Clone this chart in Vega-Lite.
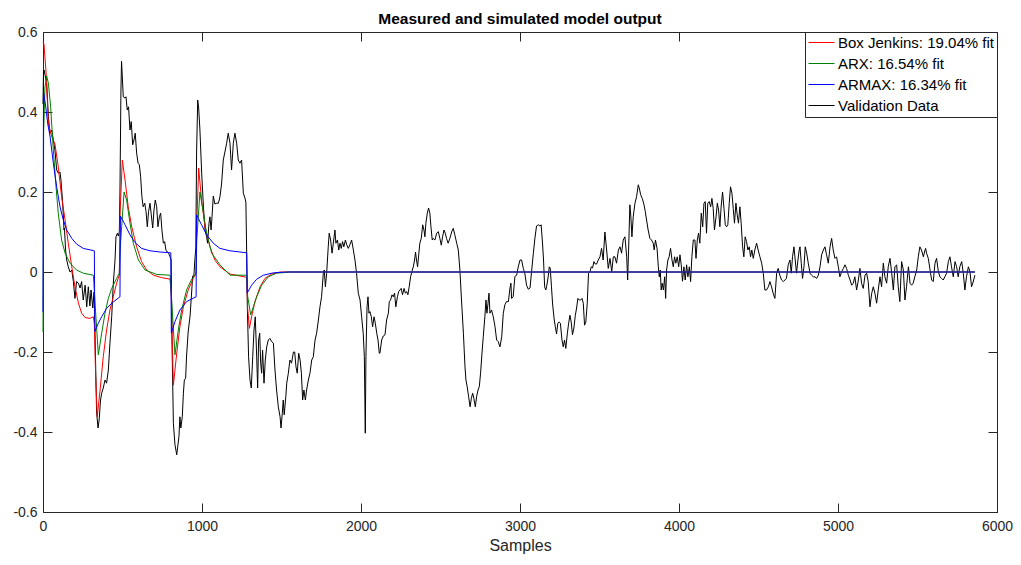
{
  "$schema": "https://vega.github.io/schema/vega-lite/v6.json",
  "width": 954,
  "height": 480,
  "autosize": {"type": "none"},
  "padding": {"left": 43, "top": 32, "right": 24, "bottom": 53},
  "background": "white",
  "title": {
    "text": "Measured and simulated model output",
    "fontSize": 15.5,
    "fontWeight": "bold",
    "color": "#000000",
    "anchor": "middle",
    "offset": -2
  },
  "config": {
    "font": "Liberation Sans",
    "view": {"stroke": null},
    "axis": {
      "grid": false,
      "domainColor": "#262626",
      "domainWidth": 1,
      "tickColor": "#262626",
      "tickWidth": 1,
      "tickSize": -9,
      "labelColor": "#262626",
      "labelFontSize": 14,
      "labelFlush": false,
      "labelOverlap": false,
      "titleColor": "#262626",
      "titleFontWeight": "normal"
    }
  },
  "datasets": {
    "validation": [
      {"s":0,"y":0.42},{"s":3,"y":0.5},{"s":7,"y":0.505},{"s":14,"y":0.49},{"s":23,"y":0.472},{"s":34,"y":0.388},{"s":44,"y":0.347},{"s":55,"y":0.355},{"s":65,"y":0.33},{"s":75,"y":0.305},{"s":86,"y":0.255},{"s":96,"y":0.247},{"s":107,"y":0.25},{"s":113,"y":0.23},{"s":121,"y":0.188},{"s":128,"y":0.14},{"s":132,"y":0.105},{"s":135,"y":0.11},{"s":142,"y":0.055},{"s":149,"y":0.03},{"s":159,"y":0.013},{"s":170,"y":0.0},{"s":181,"y":0.005},{"s":191,"y":-0.024},{"s":201,"y":-0.066},{"s":211,"y":-0.024},{"s":223,"y":-0.028},{"s":233,"y":-0.04},{"s":243,"y":-0.024},{"s":253,"y":-0.07},{"s":265,"y":-0.033},{"s":275,"y":-0.087},{"s":285,"y":-0.037},{"s":295,"y":-0.085},{"s":302,"y":-0.045},{"s":313,"y":-0.09},{"s":321,"y":-0.05},{"s":327,"y":-0.15},{"s":337,"y":-0.35},{"s":346,"y":-0.39},{"s":353,"y":-0.37},{"s":362,"y":-0.32},{"s":369,"y":-0.303},{"s":379,"y":-0.29},{"s":390,"y":-0.27},{"s":400,"y":-0.278},{"s":411,"y":-0.245},{"s":421,"y":-0.178},{"s":432,"y":-0.112},{"s":442,"y":-0.03},{"s":453,"y":0.03},{"s":459,"y":0.088},{"s":468,"y":0.097},{"s":474,"y":0.09},{"s":480,"y":0.1},{"s":484,"y":0.2},{"s":490,"y":0.45},{"s":494,"y":0.527},{"s":505,"y":0.438},{"s":516,"y":0.435},{"s":522,"y":0.438},{"s":530,"y":0.405},{"s":538,"y":0.413},{"s":547,"y":0.355},{"s":555,"y":0.376},{"s":564,"y":0.318},{"s":572,"y":0.33},{"s":580,"y":0.347},{"s":589,"y":0.297},{"s":598,"y":0.272},{"s":606,"y":0.268},{"s":614,"y":0.238},{"s":622,"y":0.188},{"s":630,"y":0.163},{"s":640,"y":0.172},{"s":648,"y":0.151},{"s":656,"y":0.113},{"s":664,"y":0.151},{"s":673,"y":0.172},{"s":681,"y":0.143},{"s":690,"y":0.11},{"s":698,"y":0.155},{"s":706,"y":0.18},{"s":715,"y":0.163},{"s":723,"y":0.113},{"s":732,"y":0.138},{"s":740,"y":0.147},{"s":748,"y":0.105},{"s":757,"y":0.072},{"s":765,"y":0.076},{"s":773,"y":0.055},{"s":782,"y":0.05},{"s":790,"y":0.047},{"s":799,"y":0.038},{"s":806,"y":0.03},{"s":811,"y":-0.17},{"s":820,"y":-0.378},{"s":830,"y":-0.432},{"s":841,"y":-0.457},{"s":847,"y":-0.437},{"s":855,"y":-0.412},{"s":861,"y":-0.362},{"s":867,"y":-0.39},{"s":876,"y":-0.362},{"s":883,"y":-0.303},{"s":889,"y":-0.27},{"s":897,"y":-0.266},{"s":903,"y":-0.21},{"s":913,"y":-0.15},{"s":925,"y":-0.11},{"s":935,"y":-0.05},{"s":941,"y":-0.01},{"s":949,"y":-0.01},{"s":955,"y":0.03},{"s":961,"y":0.06},{"s":966,"y":0.3},{"s":973,"y":0.43},{"s":979,"y":0.41},{"s":987,"y":0.355},{"s":998,"y":0.247},{"s":1009,"y":0.163},{"s":1019,"y":0.105},{"s":1029,"y":0.088},{"s":1035,"y":0.072},{"s":1044,"y":0.122},{"s":1050,"y":0.138},{"s":1057,"y":0.105},{"s":1063,"y":0.138},{"s":1071,"y":0.19},{"s":1081,"y":0.17},{"s":1092,"y":0.172},{"s":1103,"y":0.172},{"s":1113,"y":0.188},{"s":1123,"y":0.22},{"s":1134,"y":0.28},{"s":1144,"y":0.3},{"s":1155,"y":0.322},{"s":1165,"y":0.347},{"s":1176,"y":0.322},{"s":1186,"y":0.255},{"s":1197,"y":0.322},{"s":1207,"y":0.347},{"s":1218,"y":0.322},{"s":1228,"y":0.28},{"s":1239,"y":0.272},{"s":1249,"y":0.28},{"s":1260,"y":0.197},{"s":1270,"y":0.185},{"s":1276,"y":0.175},{"s":1283,"y":0.0},
      {"s":1285,"y":-0.087},{"s":1293,"y":-0.212},{"s":1302,"y":-0.27},{"s":1310,"y":-0.29},{"s":1319,"y":-0.212},{"s":1327,"y":-0.145},{"s":1335,"y":-0.112},{"s":1344,"y":-0.212},{"s":1350,"y":-0.29},{"s":1356,"y":-0.17},{"s":1363,"y":-0.153},{"s":1369,"y":-0.228},{"s":1375,"y":-0.253},{"s":1381,"y":-0.195},{"s":1390,"y":-0.278},{"s":1398,"y":-0.22},{"s":1407,"y":-0.187},{"s":1417,"y":-0.17},{"s":1427,"y":-0.166},{"s":1438,"y":-0.174},{"s":1449,"y":-0.178},{"s":1459,"y":-0.245},{"s":1469,"y":-0.295},{"s":1480,"y":-0.337},{"s":1491,"y":-0.362},{"s":1497,"y":-0.39},{"s":1505,"y":-0.353},{"s":1511,"y":-0.32},{"s":1517,"y":-0.357},{"s":1527,"y":-0.312},{"s":1533,"y":-0.278},{"s":1543,"y":-0.253},{"s":1553,"y":-0.22},{"s":1563,"y":-0.228},{"s":1575,"y":-0.2},{"s":1583,"y":-0.2},{"s":1591,"y":-0.237},{"s":1599,"y":-0.253},{"s":1608,"y":-0.203},{"s":1617,"y":-0.22},{"s":1625,"y":-0.253},{"s":1633,"y":-0.32},{"s":1641,"y":-0.295},{"s":1650,"y":-0.32},{"s":1658,"y":-0.295},{"s":1669,"y":-0.27},{"s":1679,"y":-0.253},{"s":1690,"y":-0.22},{"s":1700,"y":-0.212},{"s":1711,"y":-0.17},{"s":1721,"y":-0.153},{"s":1732,"y":-0.12},{"s":1742,"y":-0.087},{"s":1752,"y":-0.062},{"s":1763,"y":-0.003},{"s":1769,"y":0.005},{"s":1776,"y":-0.037},{"s":1784,"y":-0.003},{"s":1794,"y":0.063},{"s":1800,"y":0.097},{"s":1809,"y":0.08},{"s":1818,"y":0.047},{"s":1826,"y":0.072},{"s":1836,"y":0.105},{"s":1842,"y":0.072},{"s":1852,"y":0.08},{"s":1860,"y":0.055},{"s":1868,"y":0.072},{"s":1876,"y":0.059},{"s":1884,"y":0.076},{"s":1892,"y":0.063},{"s":1902,"y":0.08},{"s":1910,"y":0.068},{"s":1920,"y":0.059},{"s":1930,"y":0.068},{"s":1941,"y":0.08},{"s":1952,"y":0.055},{"s":1962,"y":0.03},{"s":1972,"y":-0.003},{"s":1983,"y":-0.053},{"s":1994,"y":-0.07},{"s":2004,"y":-0.112},{"s":2014,"y":-0.153},{"s":2021,"y":-0.212},{"s":2027,"y":-0.403},{"s":2031,"y":-0.212},{"s":2038,"y":-0.087},{"s":2044,"y":-0.062},{"s":2050,"y":-0.103},{"s":2056,"y":-0.099},{"s":2065,"y":-0.112},{"s":2073,"y":-0.137},{"s":2082,"y":-0.112},{"s":2090,"y":-0.128},{"s":2099,"y":-0.153},{"s":2107,"y":-0.17},{"s":2115,"y":-0.203},
      {"s":2119,"y":-0.203},{"s":2130,"y":-0.17},{"s":2140,"y":-0.16},{"s":2151,"y":-0.157},{"s":2161,"y":-0.12},{"s":2172,"y":-0.103},{"s":2178,"y":-0.074},{"s":2186,"y":-0.07},{"s":2195,"y":-0.057},{"s":2203,"y":-0.062},{"s":2211,"y":-0.053},{"s":2219,"y":-0.087},{"s":2229,"y":-0.062},{"s":2237,"y":-0.049},{"s":2245,"y":-0.045},{"s":2253,"y":-0.041},{"s":2261,"y":-0.057},{"s":2271,"y":-0.041},{"s":2279,"y":-0.053},{"s":2287,"y":-0.049},{"s":2295,"y":-0.057},{"s":2303,"y":-0.037},{"s":2312,"y":-0.012},{"s":2320,"y":0.001},{"s":2329,"y":0.013},{"s":2337,"y":0.03},{"s":2343,"y":0.05},{"s":2349,"y":0.03},{"s":2356,"y":0.013},{"s":2364,"y":0.047},{"s":2370,"y":0.072},{"s":2379,"y":0.084},{"s":2388,"y":0.118},{"s":2396,"y":0.105},{"s":2402,"y":0.088},{"s":2408,"y":0.122},{"s":2417,"y":0.147},{"s":2425,"y":0.16},{"s":2433,"y":0.147},{"s":2440,"y":0.113},{"s":2448,"y":0.08},{"s":2454,"y":0.084},{"s":2465,"y":0.08},{"s":2476,"y":0.097},{"s":2486,"y":0.101},{"s":2496,"y":0.084},{"s":2505,"y":0.067},{"s":2513,"y":0.088},{"s":2522,"y":0.105},{"s":2530,"y":0.097},{"s":2538,"y":0.084},{"s":2548,"y":0.072},{"s":2559,"y":0.084},{"s":2570,"y":0.1},{"s":2580,"y":0.109},{"s":2590,"y":0.093},{"s":2602,"y":0.072},{"s":2612,"y":0.055},{"s":2622,"y":0.005},{"s":2632,"y":-0.07},{"s":2644,"y":-0.153},{"s":2654,"y":-0.237},{"s":2660,"y":-0.27},{"s":2668,"y":-0.287},{"s":2677,"y":-0.312},{"s":2686,"y":-0.337},{"s":2694,"y":-0.316},{"s":2702,"y":-0.303},{"s":2710,"y":-0.316},{"s":2719,"y":-0.337},{"s":2727,"y":-0.312},{"s":2736,"y":-0.295},{"s":2744,"y":-0.287},{"s":2752,"y":-0.253},{"s":2761,"y":-0.203},{"s":2769,"y":-0.162},{"s":2779,"y":-0.112},{"s":2786,"y":-0.07},{"s":2792,"y":-0.103},{"s":2799,"y":-0.078},{"s":2805,"y":-0.053},{"s":2811,"y":-0.103},{"s":2821,"y":-0.095},{"s":2832,"y":-0.112},{"s":2843,"y":-0.137},{"s":2853,"y":-0.17},{"s":2863,"y":-0.174},{"s":2874,"y":-0.187},{"s":2885,"y":-0.162},{"s":2895,"y":-0.103},{"s":2905,"y":-0.082},{"s":2915,"y":-0.074},{"s":2927,"y":-0.074},{"s":2937,"y":-0.04},{"s":2943,"y":-0.028},{"s":2947,"y":-0.066},{"s":2957,"y":-0.062},{"s":2968,"y":-0.011},{"s":2979,"y":-0.008},{"s":2989,"y":0.013},{"s":3000,"y":0.03},{"s":3010,"y":0.03},{"s":3021,"y":0.009},{"s":3031,"y":-0.005},{"s":3041,"y":-0.033},{"s":3052,"y":-0.043},{"s":3063,"y":-0.04},{"s":3073,"y":0.002},{"s":3084,"y":0.047},{"s":3094,"y":0.085},{"s":3104,"y":0.115},{"s":3115,"y":0.118},{"s":3126,"y":0.115},{"s":3133,"y":0.118},{"s":3142,"y":0.07},{"s":3148,"y":0.03},{"s":3155,"y":-0.037},{"s":3162,"y":-0.045},{"s":3168,"y":-0.035},{"s":3178,"y":-0.01},{"s":3184,"y":0.013},{"s":3190,"y":0.01},{"s":3198,"y":-0.037},{"s":3205,"y":-0.08},{"s":3214,"y":-0.115},{"s":3222,"y":-0.137},{"s":3230,"y":-0.155},{"s":3238,"y":-0.128},{"s":3246,"y":-0.125},{"s":3254,"y":-0.128},{"s":3264,"y":-0.17},{"s":3272,"y":-0.187},{"s":3280,"y":-0.17},{"s":3288,"y":-0.191},{"s":3298,"y":-0.153},{"s":3306,"y":-0.128},{"s":3314,"y":-0.108},{"s":3322,"y":-0.125},{"s":3330,"y":-0.157},{"s":3339,"y":-0.14},{"s":3348,"y":-0.108},{"s":3356,"y":-0.09},{"s":3364,"y":-0.066},{"s":3372,"y":-0.07},{"s":3381,"y":-0.07},{"s":3390,"y":-0.066},{"s":3398,"y":-0.078},{"s":3406,"y":-0.133},{"s":3414,"y":-0.125},{"s":3423,"y":-0.078},{"s":3431,"y":-0.003},{"s":3440,"y":0.0},{"s":3448,"y":0.013},{"s":3456,"y":0.01},{"s":3465,"y":0.026},{"s":3473,"y":0.02},{"s":3482,"y":0.02},{"s":3492,"y":0.03},{"s":3503,"y":0.038},{"s":3513,"y":0.059},{"s":3523,"y":0.03},{"s":3534,"y":0.1},{"s":3545,"y":0.055},{"s":3555,"y":0.009},{"s":3566,"y":0.034},{"s":3577,"y":0.001},{"s":3587,"y":0.038},{"s":3597,"y":0.038},{"s":3607,"y":0.022},{"s":3619,"y":0.055},{"s":3629,"y":0.063},{"s":3639,"y":0.047},{"s":3649,"y":0.08},{"s":3660,"y":0.088},{"s":3671,"y":0.038},{"s":3677,"y":-0.02},{"s":3683,"y":0.055},{"s":3691,"y":0.168},{"s":3697,"y":0.14},{"s":3704,"y":0.088},{"s":3712,"y":0.138},{"s":3723,"y":0.172},{"s":3733,"y":0.188},{"s":3744,"y":0.218},{"s":3750,"y":0.21},{"s":3759,"y":0.193},{"s":3769,"y":0.184},{"s":3780,"y":0.168},{"s":3788,"y":0.151},{"s":3796,"y":0.13},{"s":3806,"y":0.105},{"s":3817,"y":0.084},{"s":3827,"y":0.08},{"s":3838,"y":0.072},{"s":3844,"y":0.055},{"s":3852,"y":0.08},{"s":3862,"y":0.059},{"s":3870,"y":0.013},{"s":3876,"y":-0.012},{"s":3882,"y":0.005},{"s":3888,"y":-0.045},{"s":3894,"y":-0.028},{"s":3902,"y":-0.045},{"s":3910,"y":-0.012},{"s":3916,"y":-0.066},{"s":3922,"y":0.005},{"s":3930,"y":0.03},{"s":3938,"y":0.038},{"s":3947,"y":0.059},{"s":3956,"y":0.03},{"s":3964,"y":0.013},{"s":3972,"y":0.038},{"s":3980,"y":0.022},{"s":3989,"y":0.038},{"s":3998,"y":0.013},{"s":4006,"y":0.043},{"s":4014,"y":0.018},{"s":4022,"y":-0.023},{"s":4031,"y":0.013},{"s":4039,"y":-0.02},{"s":4048,"y":0.018},{"s":4056,"y":-0.012},{"s":4065,"y":0.013},{"s":4073,"y":-0.024},{"s":4081,"y":0.038},{"s":4090,"y":0.08},{"s":4100,"y":0.08},{"s":4107,"y":0.034},{"s":4115,"y":0.08},{"s":4123,"y":0.097},{"s":4131,"y":0.072},{"s":4140,"y":0.147},{"s":4149,"y":0.113},{"s":4157,"y":0.172},{"s":4165,"y":0.176},{"s":4173,"y":0.097},{"s":4181,"y":0.172},{"s":4190,"y":0.176},{"s":4199,"y":0.163},{"s":4207,"y":0.184},{"s":4215,"y":0.159},{"s":4223,"y":0.105},{"s":4233,"y":0.138},{"s":4241,"y":0.172},{"s":4249,"y":0.155},{"s":4257,"y":0.113},{"s":4265,"y":0.163},{"s":4274,"y":0.2},{"s":4283,"y":0.159},{"s":4291,"y":0.118},{"s":4299,"y":0.113},{"s":4307,"y":0.118},{"s":4316,"y":0.172},{"s":4324,"y":0.213},{"s":4333,"y":0.197},{"s":4341,"y":0.159},{"s":4349,"y":0.122},{"s":4358,"y":0.172},{"s":4366,"y":0.143},{"s":4374,"y":0.122},{"s":4383,"y":0.163},{"s":4391,"y":0.122},{"s":4400,"y":0.063},{"s":4408,"y":0.038},{"s":4416,"y":0.088},{"s":4425,"y":0.076},{"s":4433,"y":0.055},{"s":4442,"y":0.063},{"s":4450,"y":0.038},{"s":4458,"y":0.055},{"s":4467,"y":0.034},{"s":4477,"y":0.055},{"s":4488,"y":0.072},{"s":4498,"y":0.055},{"s":4509,"y":0.038},{"s":4520,"y":0.022},{"s":4530,"y":-0.003},{"s":4540,"y":-0.045},{"s":4550,"y":-0.045},{"s":4562,"y":-0.037},{"s":4572,"y":-0.024},{"s":4582,"y":-0.037},{"s":4592,"y":-0.053},{"s":4603,"y":-0.066},{"s":4614,"y":-0.003},{"s":4624,"y":0.009},{"s":4634,"y":-0.008},{"s":4645,"y":-0.02},{"s":4656,"y":-0.024},{"s":4666,"y":-0.02},{"s":4676,"y":-0.016},{"s":4687,"y":0.018},{"s":4698,"y":0.03},{"s":4706,"y":-0.003},{"s":4714,"y":0.038},{"s":4723,"y":0.063},{"s":4731,"y":0.03},{"s":4739,"y":-0.003},{"s":4748,"y":0.03},{"s":4756,"y":0.055},
      {"s":4761,"y":0.063},{"s":4769,"y":0.022},{"s":4777,"y":-0.016},{"s":4786,"y":0.013},{"s":4794,"y":0.063},{"s":4803,"y":0.047},{"s":4813,"y":0.022},{"s":4824,"y":-0.003},{"s":4834,"y":-0.008},{"s":4845,"y":-0.012},{"s":4855,"y":-0.012},{"s":4866,"y":-0.016},{"s":4876,"y":-0.008},{"s":4887,"y":0.013},{"s":4897,"y":0.043},{"s":4908,"y":0.055},{"s":4918,"y":0.063},{"s":4928,"y":0.043},{"s":4939,"y":0.022},{"s":4950,"y":0.063},{"s":4960,"y":0.084},{"s":4970,"y":0.055},{"s":4981,"y":0.034},{"s":4991,"y":0.038},{"s":5002,"y":0.013},{"s":5012,"y":-0.012},{"s":5023,"y":0.001},{"s":5034,"y":0.009},{"s":5044,"y":0.018},{"s":5054,"y":0.009},{"s":5065,"y":-0.008},{"s":5076,"y":-0.02},{"s":5086,"y":-0.033},{"s":5096,"y":-0.028},{"s":5106,"y":-0.012},{"s":5117,"y":-0.045},{"s":5128,"y":-0.02},{"s":5138,"y":0.009},{"s":5148,"y":-0.028},{"s":5159,"y":-0.041},{"s":5170,"y":-0.008},{"s":5180,"y":-0.003},{"s":5190,"y":-0.024},{"s":5201,"y":-0.087},{"s":5212,"y":-0.053},{"s":5222,"y":-0.037},{"s":5232,"y":-0.053},{"s":5243,"y":-0.078},{"s":5253,"y":-0.045},{"s":5264,"y":-0.012},{"s":5274,"y":-0.037},{"s":5285,"y":0.022},{"s":5295,"y":-0.012},{"s":5306,"y":-0.028},{"s":5316,"y":0.013},{"s":5327,"y":0.034},{"s":5337,"y":0.0},{"s":5348,"y":-0.045},{"s":5358,"y":0.013},{"s":5369,"y":0.018},{"s":5379,"y":-0.037},{"s":5389,"y":-0.074},{"s":5400,"y":0.026},{"s":5411,"y":0.005},{"s":5421,"y":-0.07},{"s":5431,"y":-0.037},{"s":5443,"y":0.013},{"s":5453,"y":-0.028},{"s":5463,"y":-0.033},{"s":5473,"y":-0.028},{"s":5483,"y":-0.012},{"s":5495,"y":0.005},{"s":5505,"y":0.038},{"s":5515,"y":0.063},{"s":5525,"y":0.055},{"s":5537,"y":0.038},{"s":5544,"y":0.05},{"s":5551,"y":0.059},{"s":5557,"y":0.047},{"s":5568,"y":0.034},{"s":5579,"y":0.005},{"s":5589,"y":-0.02},{"s":5599,"y":-0.024},{"s":5610,"y":0.022},{"s":5620,"y":0.034},{"s":5631,"y":0.001},{"s":5641,"y":-0.012},{"s":5652,"y":-0.016},{"s":5662,"y":-0.02},{"s":5672,"y":-0.012},{"s":5683,"y":-0.003},{"s":5694,"y":0.026},{"s":5704,"y":0.038},{"s":5714,"y":0.013},{"s":5725,"y":-0.012},{"s":5736,"y":0.026},{"s":5746,"y":0.013},{"s":5756,"y":-0.012},{"s":5766,"y":0.013},{"s":5778,"y":0.026},{"s":5788,"y":-0.003},{"s":5798,"y":-0.045},{"s":5808,"y":-0.012},{"s":5820,"y":0.013},{"s":5830,"y":0.001},{"s":5840,"y":-0.037},{"s":5850,"y":-0.025},{"s":5861,"y":-0.008}
    ],
    "boxJenkins": [
      {"s":0,"y":0.575},{"s":6,"y":0.57},{"s":19,"y":0.5},{"s":34,"y":0.37},{"s":55,"y":0.338},{"s":75,"y":0.32},{"s":96,"y":0.263},{"s":117,"y":0.188},{"s":139,"y":0.13},{"s":159,"y":0.072},{"s":181,"y":0.013},{"s":201,"y":-0.037},{"s":223,"y":-0.078},{"s":243,"y":-0.103},{"s":265,"y":-0.114},{"s":295,"y":-0.116},{"s":317,"y":-0.112},{"s":323,"y":-0.13},{"s":331,"y":-0.26},{"s":341,"y":-0.362},{"s":359,"y":-0.295},{"s":379,"y":-0.212},{"s":400,"y":-0.145},{"s":421,"y":-0.095},{"s":442,"y":-0.062},{"s":463,"y":-0.028},{"s":480,"y":-0.008},{"s":485,"y":0.15},{"s":499,"y":0.28},{"s":516,"y":0.23},{"s":536,"y":0.163},{"s":558,"y":0.113},{"s":589,"y":0.063},{"s":620,"y":0.026},{"s":652,"y":0.005},{"s":694,"y":-0.008},{"s":746,"y":-0.014},{"s":799,"y":-0.018},{"s":806,"y":-0.05},{"s":820,"y":-0.283},{"s":841,"y":-0.203},{"s":861,"y":-0.137},{"s":883,"y":-0.087},{"s":913,"y":-0.045},{"s":945,"y":-0.016},{"s":957,"y":-0.008},{"s":963,"y":0.0},{"s":967,"y":0.12},{"s":979,"y":0.26},{"s":997,"y":0.18},{"s":1019,"y":0.113},{"s":1050,"y":0.063},{"s":1081,"y":0.03},{"s":1113,"y":0.013},{"s":1176,"y":-0.005},{"s":1276,"y":-0.013},{"s":1281,"y":-0.013},{"s":1287,"y":-0.09},{"s":1298,"y":-0.141},{"s":1312,"y":-0.112},{"s":1333,"y":-0.074},{"s":1365,"y":-0.037},{"s":1396,"y":-0.016},{"s":1438,"y":-0.005},{"s":1491,"y":0.0},{"s":1553,"y":0.0},{"s":5861,"y":0.0}
    ],
    "arx": [
      {"s":0,"y":-0.15},{"s":4,"y":0.35},{"s":12,"y":0.46},{"s":23,"y":0.49},{"s":34,"y":0.472},{"s":48,"y":0.413},{"s":65,"y":0.305},{"s":82,"y":0.213},{"s":96,"y":0.147},{"s":117,"y":0.08},{"s":139,"y":0.047},{"s":170,"y":0.022},{"s":211,"y":0.005},{"s":253,"y":-0.003},{"s":317,"y":-0.008},{"s":323,"y":-0.05},{"s":348,"y":-0.207},{"s":369,"y":-0.153},{"s":390,"y":-0.103},{"s":411,"y":-0.066},{"s":432,"y":-0.041},{"s":463,"y":-0.016},{"s":480,"y":-0.003},{"s":484,"y":0.05},{"s":510,"y":0.2},{"s":526,"y":0.18},{"s":547,"y":0.122},{"s":568,"y":0.072},{"s":600,"y":0.03},{"s":642,"y":0.005},{"s":715,"y":-0.006},{"s":799,"y":-0.008},{"s":806,"y":-0.05},{"s":830,"y":-0.207},{"s":851,"y":-0.145},{"s":872,"y":-0.095},{"s":903,"y":-0.045},{"s":935,"y":-0.018},{"s":957,"y":-0.008},{"s":963,"y":0.0},{"s":967,"y":0.08},{"s":987,"y":0.2},{"s":1009,"y":0.147},{"s":1029,"y":0.097},{"s":1061,"y":0.047},{"s":1113,"y":0.018},{"s":1176,"y":-0.008},{"s":1281,"y":-0.008},{"s":1287,"y":-0.06},{"s":1306,"y":-0.107},{"s":1323,"y":-0.087},{"s":1344,"y":-0.062},{"s":1375,"y":-0.033},{"s":1417,"y":-0.012},{"s":1469,"y":-0.003},{"s":1553,"y":0.0},{"s":5861,"y":0.0}
    ],
    "armax": [
      {"s":0,"y":-0.1},{"s":3,"y":0.45},{"s":15,"y":0.42},{"s":30,"y":0.37},{"s":44,"y":0.34},{"s":65,"y":0.272},{"s":86,"y":0.213},{"s":107,"y":0.163},{"s":128,"y":0.13},{"s":149,"y":0.105},{"s":181,"y":0.084},{"s":211,"y":0.07},{"s":253,"y":0.059},{"s":323,"y":0.053},{"s":326,"y":-0.149},{"s":348,"y":-0.128},{"s":369,"y":-0.112},{"s":400,"y":-0.091},{"s":432,"y":-0.078},{"s":484,"y":-0.062},{"s":487,"y":0.14},{"s":516,"y":0.118},{"s":547,"y":0.093},{"s":578,"y":0.074},{"s":620,"y":0.059},{"s":673,"y":0.053},{"s":736,"y":0.05},{"s":804,"y":0.048},{"s":807,"y":-0.153},{"s":830,"y":-0.124},{"s":861,"y":-0.095},{"s":903,"y":-0.074},{"s":963,"y":-0.062},{"s":966,"y":0.143},{"s":997,"y":0.118},{"s":1029,"y":0.093},{"s":1071,"y":0.072},{"s":1113,"y":0.059},{"s":1176,"y":0.053},{"s":1281,"y":0.048},{"s":1284,"y":-0.053},{"s":1312,"y":-0.033},{"s":1344,"y":-0.018},{"s":1386,"y":-0.008},{"s":1449,"y":-0.002},{"s":1533,"y":0.0},{"s":5861,"y":0.0}
    ]
  },
  "layer": [
    {
      "encoding": {
        "x": {
          "field": "s",
          "type": "quantitative",
          "scale": {"domain": [0, 6000], "nice": false, "zero": false},
          "axis": {
            "orient": "bottom",
            "values": [0, 1000, 2000, 3000, 4000, 5000, 6000],
            "format": "d",
            "labelPadding": 16,
            "title": "Samples",
            "titleFontSize": 16,
            "titlePadding": 4
          }
        },
        "y": {
          "field": "y",
          "type": "quantitative",
          "scale": {"domain": [-0.6, 0.6], "nice": false, "zero": false},
          "axis": {
            "orient": "left",
            "values": [-0.6, -0.4, -0.2, 0, 0.2, 0.4, 0.6],
            "labelExpr": "toString(datum.value)",
            "labelPadding": 15,
            "title": null
          }
        }
      },
      "layer": [
        {
          "data": {"name": "validation"},
          "mark": {"type": "line", "strokeWidth": 1},
          "encoding": {
            "color": {
              "datum": "Validation Data",
              "type": "nominal",
              "scale": {
                "domain": ["Box Jenkins: 19.04% fit", "ARX: 16.54% fit", "ARMAX: 16.34% fit", "Validation Data"],
                "range": ["#ff0000", "#008000", "#0000ff", "#000000"]
              },
              "legend": {
                "title": null,
                "orient": "top-right",
                "offset": 0,
                "strokeColor": "#262626",
                "fillColor": "#ffffff",
                "padding": 3,
                "symbolType": "stroke",
                "symbolSize": 676,
                "symbolStrokeWidth": 1,
                "clipHeight": 15,
                "labelFontSize": 15,
                "labelColor": "#000000",
                "labelOffset": 3,
                "labelLimit": 300,
                "rowPadding": 5
              }
            }
          }
        },
        {
          "data": {"name": "boxJenkins"},
          "mark": {"type": "line", "strokeWidth": 1},
          "encoding": {"color": {"datum": "Box Jenkins: 19.04% fit", "type": "nominal"}}
        },
        {
          "data": {"name": "arx"},
          "mark": {"type": "line", "strokeWidth": 1},
          "encoding": {"color": {"datum": "ARX: 16.54% fit", "type": "nominal"}}
        },
        {
          "data": {"name": "armax"},
          "mark": {"type": "line", "strokeWidth": 1},
          "encoding": {"color": {"datum": "ARMAX: 16.34% fit", "type": "nominal"}}
        }
      ]
    },
    {
      "data": {"values": [{"s": 0, "y": -0.6}, {"s": 6000, "y": 0.6}]},
      "mark": {"type": "point", "opacity": 0},
      "encoding": {
        "x": {
          "field": "s",
          "type": "quantitative",
          "axis": {"orient": "top", "values": [0, 1000, 2000, 3000, 4000, 5000, 6000], "labels": false, "title": null}
        },
        "y": {
          "field": "y",
          "type": "quantitative",
          "axis": {"orient": "right", "values": [-0.6, -0.4, -0.2, 0, 0.2, 0.4, 0.6], "labels": false, "title": null}
        }
      }
    }
  ],
  "resolve": {"axis": {"x": "independent", "y": "independent"}}
}
